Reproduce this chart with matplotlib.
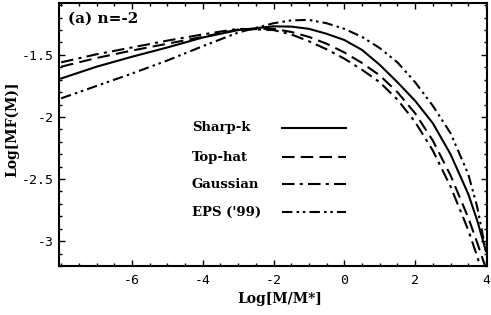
import matplotlib
matplotlib.use('Agg')
import matplotlib.pyplot as plt
from matplotlib.ticker import MultipleLocator, FixedLocator

# log(M/M*) sample points
x_pts = [-8, -7, -6, -5, -4, -3, -2, -1.5, -1, -0.5, 0, 0.5, 1, 1.5, 2, 2.5, 3, 3.5, 3.75, 4]

sharpk = [-1.69, -1.595, -1.515, -1.44, -1.36, -1.30, -1.27, -1.272, -1.29, -1.33, -1.38,
          -1.46, -1.58, -1.72, -1.87, -2.05, -2.30, -2.62, -2.83, -3.08]
tophat = [-1.595, -1.525, -1.465, -1.41, -1.355, -1.295, -1.29, -1.315, -1.355, -1.41, -1.48,
          -1.565, -1.665, -1.80, -1.97, -2.19, -2.47, -2.81, -3.01, -3.22]
gauss = [-1.56, -1.495, -1.44, -1.385, -1.335, -1.29, -1.30, -1.335, -1.39, -1.455, -1.53,
         -1.62, -1.72, -1.86, -2.04, -2.27, -2.56, -2.91, -3.12, -3.35]
eps99 = [-1.85, -1.75, -1.65, -1.545, -1.43, -1.32, -1.245, -1.222, -1.218, -1.245, -1.29,
         -1.355, -1.445, -1.56, -1.72, -1.91, -2.13, -2.46, -2.72, -3.08]

labels = ['Sharp-k', 'Top-hat', 'Gaussian', "EPS ('99)"]
series = [sharpk, tophat, gauss, eps99]
styles = ['-', (0, (6, 3)), (0, (6, 2.5, 1.5, 2.5)), (0, (5, 2, 1.2, 1.8, 1.2, 2))]

xticks = [-6, -4, -2, 0, 2, 4]
yticks = [-1.5, -2, -2.5, -3]

fig = plt.figure(figsize=(4.91, 3.15), dpi=100)
ax = fig.add_axes([59/491, 1 - 266/315, 428/491, 263/315])

for ys, ls in zip(series, styles):
    ax.plot(x_pts, ys, color='black', lw=1.5, linestyle=ls)

ax.set_xlim(-8.06, 4.03)
ax.set_ylim(-3.2, -1.082)

ax.xaxis.set_major_locator(FixedLocator(xticks))
ax.yaxis.set_major_locator(FixedLocator(yticks))
ax.xaxis.set_minor_locator(MultipleLocator(0.5))
ax.yaxis.set_minor_locator(MultipleLocator(0.1))
ax.set_xticklabels(['-' + str(abs(t)) if t < 0 else str(t) for t in xticks])
ax.set_yticklabels(['-1.5', '-2', '-2.5', '-3'])
ax.tick_params(which='both', direction='in', top=True, right=True, width=1)
ax.tick_params(which='major', length=4, labelsize=9.5, pad=4)
ax.tick_params(axis='x', which='major', pad=6)
ax.tick_params(which='minor', length=2)
for lab in ax.get_xticklabels() + ax.get_yticklabels():
    lab.set_family('DejaVu Sans Mono')
for sp in ax.spines.values():
    sp.set_linewidth(1.5)

ax.set_xlabel('Log[M/M*]', family='DejaVu Serif', weight='bold', fontsize=10)
ax.xaxis.set_label_coords(0.515, -0.10)
ax.set_ylabel('Log[MF(M)]', family='DejaVu Serif', weight='bold', fontsize=10)
ax.yaxis.set_label_coords(-0.093, 0.52)

ax.text(0.02, 0.94, '(a) n=-2', transform=ax.transAxes, family='DejaVu Serif',
        weight='bold', fontsize=11, va='center', ha='left')

# hand-made legend: text left aligned, keys on the right
ypos = [1 - (128 - 3)/263, 1 - (157 - 3)/263, 1 - (184 - 3)/263, 1 - (212 - 3)/263]
for lab, ls, yy in zip(labels, styles, ypos):
    ax.text((192 - 59)/428, yy, lab, transform=ax.transAxes, family='DejaVu Serif',
            weight='bold', fontsize=9.5, va='center', ha='left')
    ax.plot([(282 - 59)/428, (346 - 59)/428], [yy, yy], transform=ax.transAxes,
            color='black', lw=1.5, linestyle=ls)

fig.savefig('out.png', dpi=100)
